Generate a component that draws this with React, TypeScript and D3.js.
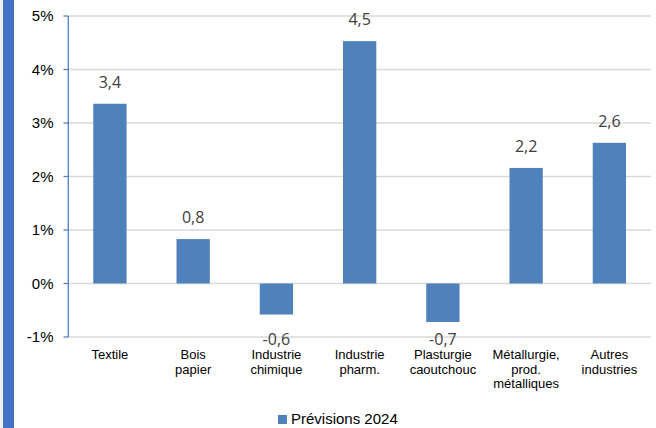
import React from "react";
import * as d3 from "d3";

const categories: string[][] = [
  ["Textile"],
  ["Bois", "papier"],
  ["Industrie", "chimique"],
  ["Industrie", "pharm."],
  ["Plasturgie", "caoutchouc"],
  ["Métallurgie,", "prod.", "métalliques"],
  ["Autres", "industries"],
];
const values: number[] = [3.36, 0.83, -0.58, 4.53, -0.72, 2.16, 2.63];
const yTicks: number[] = [-1, 0, 1, 2, 3, 4, 5];
const seriesName = "Prévisions 2024";

const W = 656;
const H = 428;
const plotLeft = 68.3;
const plotRight = 651;
const yTop = 16;
const yBottom = 337;

export default function App() {
  const x = d3
    .scaleBand<number>()
    .domain(d3.range(categories.length))
    .range([plotLeft, plotRight])
    .paddingInner(0.6)
    .paddingOuter(0.3);
  const y = d3.scaleLinear().domain([-1, 5]).range([yBottom, yTop]);
  const fmt = (v: number) => d3.format(".1f")(v).replace(".", ",").replace("−", "-");
  const barColor = "#4F81BD";
  const axisFont = "Arial, 'Liberation Sans', sans-serif";
  const labelFont = "'Open Sans', 'DejaVu Sans', sans-serif";

  return (
    <svg
      width={W}
      height={H}
      style={{ position: "absolute", left: 0, top: 0, display: "block", background: "#fff" }}
    >
      <rect x={0} y={0} width={3} height={H} fill="#eeeeee" />
      <rect x={3} y={0} width={11} height={H} fill="#4472C4" />
      {yTicks.map((t) => (
        <g key={t}>
          <line x1={plotLeft} x2={plotRight} y1={y(t)} y2={y(t)} stroke="#d9d9d9" strokeWidth={1.5} />
          <line x1={63.5} x2={plotLeft} y1={y(t)} y2={y(t)} stroke="#4F81BD" strokeWidth={1.3} />
          <text
            x={53.5}
            y={y(t) + 5}
            textAnchor="end"
            fontFamily={axisFont}
            fontSize={15}
            fill="#000"
          >
            {t}%
          </text>
        </g>
      ))}
      <line x1={plotLeft} x2={plotLeft} y1={yTop} y2={yBottom} stroke="#4F81BD" strokeWidth={1.3} />
      {values.map((v, i) => {
        const x0 = x(i)!;
        const bw = x.bandwidth();
        const y0 = y(Math.max(0, v));
        const h = Math.abs(y(v) - y(0));
        const cx = x0 + bw / 2;
        const ly = v >= 0 ? y(v) - 16 : Math.min(y(v) + 31, y(-1) + 8);
        return (
          <g key={i}>
            <rect x={x0} y={y0} width={bw} height={h} fill={barColor} />
            <text
              x={cx}
              y={ly}
              textAnchor="middle"
              fontFamily={labelFont}
              fontSize={16}
              fill="#404040"
            >
              {fmt(v)}
            </text>
          </g>
        );
      })}
      {categories.map((lines, i) => {
        const cx = x(i)! + x.bandwidth() / 2;
        return (
          <text key={i} textAnchor="middle" fontFamily={axisFont} fontSize={13} fill="#000">
            {lines.map((l, j) => (
              <tspan key={j} x={cx} y={359 + j * 14.7}>
                {l}
              </tspan>
            ))}
          </text>
        );
      })}
      <rect x={278} y={415} width={9} height={9} fill={barColor} />
      <text x={291} y={424} fontFamily={axisFont} fontSize={15} fill="#000">
        {seriesName}
      </text>
    </svg>
  );
}
